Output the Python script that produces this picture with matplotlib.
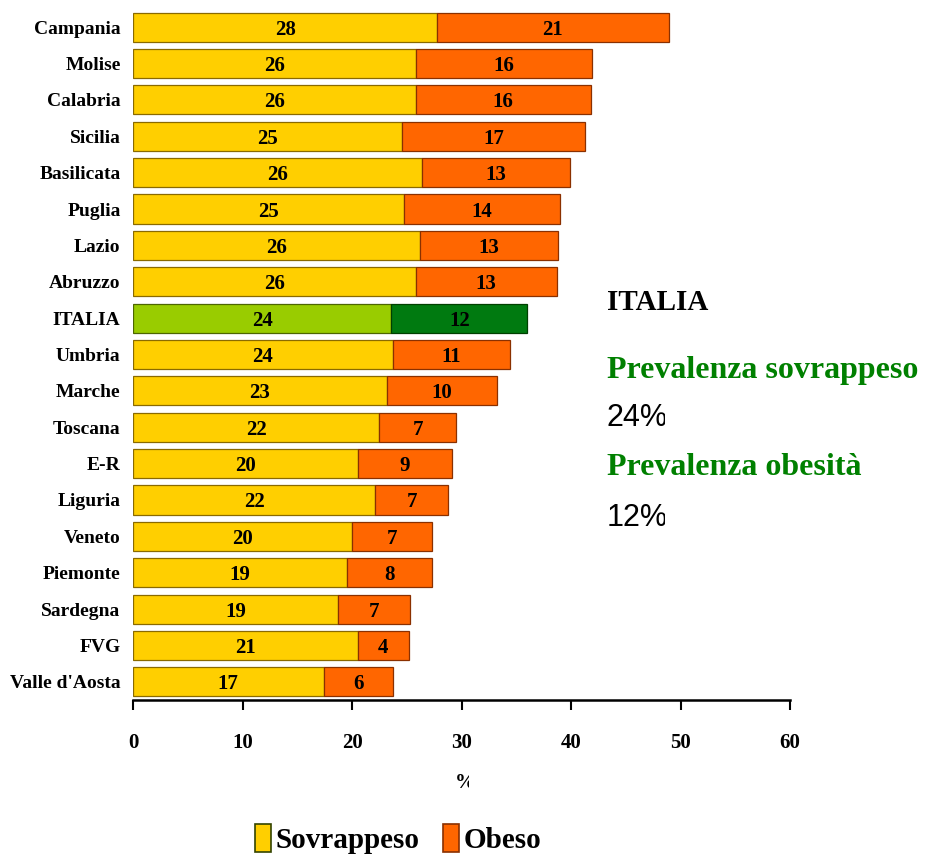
import matplotlib.pyplot as plt
from matplotlib.patches import Patch
from matplotlib.transforms import Bbox, TransformedBbox

# dati (prevalenza %)
regioni = ["Campania", "Molise", "Calabria", "Sicilia", "Basilicata", "Puglia",
           "Lazio", "Abruzzo", "ITALIA", "Umbria", "Marche", "Toscana", "E-R",
           "Liguria", "Veneto", "Piemonte", "Sardegna", "FVG", "Valle d'Aosta"]
sovrappeso = [27.8, 25.8, 25.8, 24.6, 26.4, 24.7, 26.2, 25.8, 23.6, 23.7,
              23.2, 22.5, 20.5, 22.1, 20.0, 19.5, 18.7, 20.5, 17.4]
obesi = [21.1, 16.1, 16.0, 16.7, 13.5, 14.3, 12.6, 12.9, 12.4, 10.7,
         10.0, 7.0, 8.6, 6.7, 7.3, 7.8, 6.6, 4.7, 6.3]
etichette_sovr = [28, 26, 26, 25, 26, 25, 26, 26, 24, 24, 23, 22, 20, 22, 20, 19, 19, 21, 17]
etichette_ob = [21, 16, 16, 17, 13, 14, 13, 13, 12, 11, 10, 7, 9, 7, 7, 8, 7, 4, 6]
xticks = [0, 10, 20, 30, 40, 50, 60]

GIALLO = "#FFCF00"
ARANCIO = "#FF6600"
VERDE_CHIARO = "#99CC00"
VERDE_SCURO = "#007A10"
SERIF = "Liberation Serif"

fig = plt.figure(figsize=(9.31, 8.56), dpi=100)
ax = fig.add_axes([0.1429, 0.1822, 0.7057, 0.8073])

n = len(regioni)
ypos = list(range(n - 1, -1, -1))
for i, nome in enumerate(regioni):
    y = ypos[i]
    if nome == "ITALIA":
        c1, c2, e1, e2 = VERDE_CHIARO, VERDE_SCURO, "#4d6600", "#004000"
    else:
        c1, c2, e1, e2 = GIALLO, ARANCIO, "#8a6a00", "#8a3000"
    ax.barh(y, sovrappeso[i], height=0.8, color=c1, edgecolor=e1, linewidth=0.9)
    ax.barh(y, obesi[i], left=sovrappeso[i], height=0.8, color=c2,
            edgecolor=e2, linewidth=0.9)
    ax.text(sovrappeso[i] / 2, y, str(etichette_sovr[i]), ha="center",
            va="center_baseline", fontsize=15, fontweight="bold", family=SERIF)
    ax.text(sovrappeso[i] + obesi[i] / 2, y, str(etichette_ob[i]), ha="center",
            va="center_baseline", fontsize=15, fontweight="bold", family=SERIF)

ax.set_xlim(0, 60)
ax.set_ylim(-0.5, n - 0.5)
ax.set_yticks(ypos)
ax.set_yticklabels(regioni, fontsize=14, fontweight="bold", family=SERIF)
ax.tick_params(axis="y", length=0, pad=9)
ax.set_xticks(xticks)
ax.set_xticklabels([str(t) for t in xticks], fontsize=15, fontweight="bold", family=SERIF)
ax.tick_params(axis="x", direction="out", length=7, width=1.5, pad=17)
for s in ["top", "right", "left"]:
    ax.spines[s].set_visible(False)
ax.spines["bottom"].set_linewidth(1.8)

# "%" sotto l'asse, tagliato a destra come nell'originale
xl = fig.text(455 / 931, 1 - 783 / 856, "%", fontsize=15, fontweight="bold",
              family=SERIF, ha="left", va="center")
xl.set_clip_box(TransformedBbox(Bbox([[0, 0], [469 / 931, 1]]), fig.transFigure))
xl.set_clip_on(True)

# riquadro a destra
fig.text(607 / 931, 1 - 302 / 856, "ITALIA", fontsize=21, fontweight="bold",
         family=SERIF, ha="left", va="center")
fig.text(607 / 931, 1 - 371 / 856, "Prevalenza sovrappeso", fontsize=23,
         fontweight="bold", family=SERIF, color="#008000", ha="left", va="center")
fig.text(607 / 931, 1 - 467 / 856, "Prevalenza obesità", fontsize=23,
         fontweight="bold", family=SERIF, color="#008000", ha="left", va="center")
clip = TransformedBbox(Bbox([[0, 0], [665 / 931, 1]]), fig.transFigure)
for yy, txt in [(418, "24%"), (518, "12%")]:
    t = fig.text(607 / 931, 1 - yy / 856, txt, fontsize=22, family="Liberation Sans",
                 ha="left", va="center")
    t.set_clip_box(clip)
    t.set_clip_on(True)

handles = [Patch(facecolor=GIALLO, edgecolor="#334400", linewidth=1.2, label="Sovrappeso"),
           Patch(facecolor=ARANCIO, edgecolor="#8a3000", linewidth=1.2, label="Obeso")]
fig.legend(handles=handles, loc="center", bbox_to_anchor=(398 / 931, 1 - 839 / 856),
           ncol=2, frameon=False, handlelength=0.55, handleheight=1.1,
           handletextpad=0.15, columnspacing=0.8,
           prop={"family": SERIF, "weight": "bold", "size": 21})

fig.savefig("out.png", dpi=100, facecolor="white")
